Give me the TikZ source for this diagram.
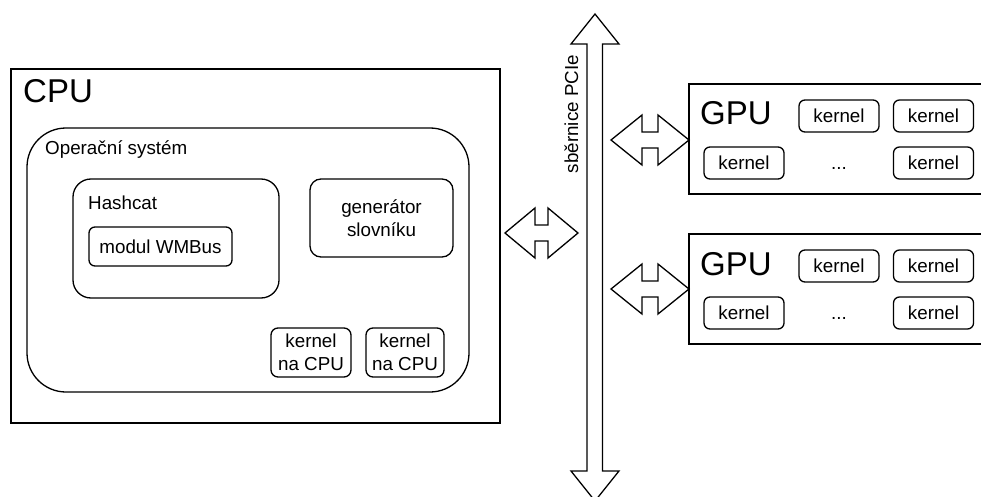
\documentclass[tikz,border=0pt]{standalone}
\usepackage{fontspec}
\setmainfont{Liberation Sans}
\newcommand\normtxt{\fontsize{18.8}{22.5}\selectfont}
\newcommand\bigtxt{\fontsize{33}{38}\selectfont}
\tikzset{
  box/.style={draw, line width=1.3pt, rectangle, inner sep=0pt, align=center, font=\normtxt},
  rbox/.style={box, rounded corners=#1},
  rbox/.default=6pt,
  lbl/.style={inner sep=0pt, anchor=base west, font=\normtxt},
  biglbl/.style={inner sep=0pt, anchor=base west, font=\bigtxt},
  fat/.style={draw, line width=1.3pt, line join=miter, fill=white},
  gpubox/.style={box, minimum width=321pt, minimum height=110pt},
  gk/.style={rbox=6pt, minimum width=80pt, minimum height=32pt},
}
\begin{document}
\begin{tikzpicture}[x=1pt,y=-1pt]
\useasboundingbox (0,0) rectangle (981,497);
\clip (0,0) rectangle (981,497);
\fill[white] (0,0) rectangle (981,497);

% CPU side
\node[box, minimum width=489pt, minimum height=354pt] (cpu) at (255.5,246) {};
\node[biglbl] (cpulbl) at (23,103) {CPU};
\node[rbox=39pt, minimum width=442pt, minimum height=264pt] (os) at (248,260) {};
\node[lbl] (oslbl) at (45,154) {Operační systém};
\node[rbox=18pt, minimum width=206pt, minimum height=119pt] (hash) at (176,238.5) {};
\node[lbl] (hashlbl) at (88,209) {Hashcat};
\node[rbox=6pt, minimum width=143pt, minimum height=39pt] (wm) at (160.5,246.5) {modul WMBus};
\node[rbox=11pt, minimum width=143pt, minimum height=78pt] (gen) at (381.5,218) {generátor\\slovníku};
\node[rbox=7pt, minimum width=80pt, minimum height=49pt] (kc1) at (311,352.5) {kernel\\na CPU};
\node[rbox=7pt, minimum width=78pt, minimum height=49pt] (kc2) at (405,352.5) {kernel\\na CPU};

% bus
\draw[fat] (595,14) -- (619,44) -- (602.5,44) -- (602.5,471) -- (619,471) -- (595,501)
  -- (571,471) -- (587,471) -- (587,44) -- (571,44) -- cycle;
\node[rotate=90, anchor=base, inner sep=0pt, font=\normtxt] (buslbl) at (578,114) {sběrnice PCIe};

% CPU <-> bus arrow
\draw[fat] (505,233) -- (535,208) -- (535,225) -- (548,225) -- (548,208) -- (578,233)
  -- (548,258) -- (548,241) -- (535,241) -- (535,258) -- cycle;

% GPU arrows
\draw[fat] (611,140) -- (642,115) -- (642,132) -- (658,132) -- (658,115) -- (689,140)
  -- (658,165) -- (658,148) -- (642,148) -- (642,165) -- cycle;
\draw[fat] (611,289) -- (642,264) -- (642,281) -- (658,281) -- (658,264) -- (689,289)
  -- (658,314) -- (658,297) -- (642,297) -- (642,314) -- cycle;

% GPU 1
\node[gpubox] (gpu1) at (849.5,139) {};
\node[biglbl] (gpu1lbl) at (700,125) {GPU};
\node[gk] (g1k1) at (839,116) {kernel};
\node[gk] (g1k2) at (933.5,116) {kernel};
\node[gk] (g1k3) at (744,163) {kernel};
\node[gk] (g1k4) at (933.5,163) {kernel};
\node[inner sep=0pt, anchor=base, font=\normtxt] (g1dots) at (839,169) {...};

% GPU 2
\node[gpubox] (gpu2) at (849.5,289) {};
\node[biglbl] (gpu2lbl) at (700,275) {GPU};
\node[gk] (g2k1) at (839,266) {kernel};
\node[gk] (g2k2) at (933.5,266) {kernel};
\node[gk] (g2k3) at (744,313) {kernel};
\node[gk] (g2k4) at (933.5,313) {kernel};
\node[inner sep=0pt, anchor=base, font=\normtxt] (g2dots) at (839,319) {...};
\end{tikzpicture}
\end{document}
